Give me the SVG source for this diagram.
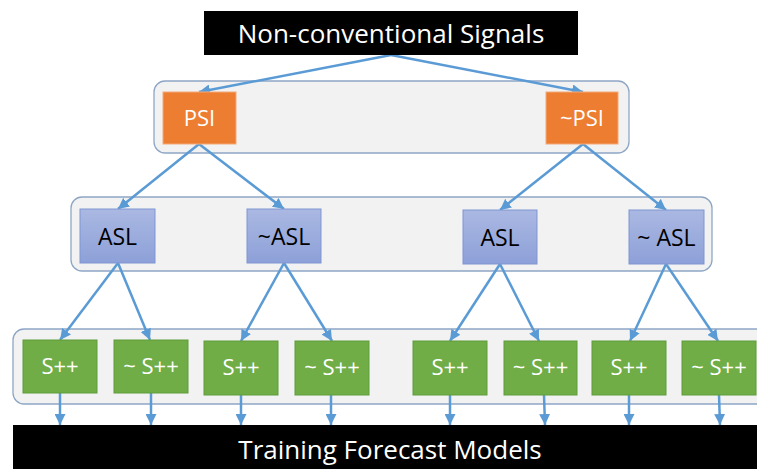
<svg xmlns="http://www.w3.org/2000/svg" width="757" height="469" viewBox="0 0 757 469">
  <defs>
    <linearGradient id="aslGrad" x1="0" y1="0" x2="0" y2="1">
      <stop offset="0" stop-color="#AAB8E2"/>
      <stop offset="1" stop-color="#8DA0D8"/>
    </linearGradient>
    <marker id="arrow" viewBox="0 0 10 10" refX="10" refY="5" markerWidth="11" markerHeight="11" markerUnits="userSpaceOnUse" orient="auto">
      <path d="M0,0 L10,5 L0,10 Z" fill="#5B9BD5"/>
    </marker>
    <style>
      .banner { fill: #000000; }
      .banner-text { fill: #FFFFFF; font-family: "Open Sans", "Noto Sans", sans-serif; font-size: 26px; text-anchor: middle; }
      .band { fill: #F2F2F2; stroke: #8EA6C6; stroke-width: 1.3; }
      .psi { fill: #ED7D31; stroke: #F4A97A; stroke-width: 1; }
      .asl { fill: url(#aslGrad); stroke: #7E95D2; stroke-width: 1; }
      .spp { fill: #70AD47; stroke: #5F9C3A; stroke-width: 1; }
      .label { font-family: "Open Sans", "Noto Sans", sans-serif; font-size: 22px; text-anchor: middle; }
      .label.dark { font-size: 23px; }
      .light { fill: #FFFFFF; }
      .dark { fill: #000000; }
      .edge { stroke: #5B9BD5; stroke-width: 2.5; fill: none; marker-end: url(#arrow); }
    </style>
  </defs>

  <!-- background bands -->
  <rect class="band" x="154" y="81" width="475" height="72" rx="11"/>
  <rect class="band" x="71" y="197" width="641" height="74" rx="11"/>
  <rect class="band" x="13" y="329" width="770" height="75" rx="11"/>

  <!-- connectors -->
  <g id="connectors">
    <path class="edge" d="M391,55 L199,92"/>
    <path class="edge" d="M391,55 L583,92"/>
    <path class="edge" d="M199,144 L118,209"/>
    <path class="edge" d="M199,144 L284,209"/>
    <path class="edge" d="M583,144 L500,210"/>
    <path class="edge" d="M583,144 L666,210"/>
    <path class="edge" d="M118,263 L60,340"/>
    <path class="edge" d="M118,263 L150,340"/>
    <path class="edge" d="M284,263 L241,341"/>
    <path class="edge" d="M284,263 L332,341"/>
    <path class="edge" d="M500,264 L450,341"/>
    <path class="edge" d="M500,264 L539,341"/>
    <path class="edge" d="M666,264 L630,341"/>
    <path class="edge" d="M666,264 L718,341"/>
    <path class="edge" d="M60,393 L60,425"/>
    <path class="edge" d="M151,393 L151,425"/>
    <path class="edge" d="M241,395 L241,425"/>
    <path class="edge" d="M331,395 L331,425"/>
    <path class="edge" d="M450,395 L450,425"/>
    <path class="edge" d="M544,395 L545,425"/>
    <path class="edge" d="M629,395 L629,425"/>
    <path class="edge" d="M719,395 L720,425"/>
  </g>

  <g id="signals">
    <rect class="banner" x="204" y="11" width="374" height="44"/>
    <text class="banner-text" x="391" y="43">Non-conventional Signals</text>
  </g>

  <g id="psi">
    <rect class="psi" x="163" y="92" width="73" height="52"/>
    <text class="label light" x="199.5" y="126">PSI</text>
  </g>
  <g id="not-psi">
    <rect class="psi" x="546" y="92" width="72" height="52"/>
    <text class="label light" x="582" y="126">~PSI</text>
  </g>

  <g id="asl-1">
    <rect class="asl" x="80" y="209" width="75" height="54"/>
    <text class="label dark" x="117.5" y="245">ASL</text>
  </g>
  <g id="not-asl-1">
    <rect class="asl" x="247" y="209" width="74" height="54"/>
    <text class="label dark" x="284" y="245">~ASL</text>
  </g>
  <g id="asl-2">
    <rect class="asl" x="463" y="210" width="74" height="54"/>
    <text class="label dark" x="500" y="246">ASL</text>
  </g>
  <g id="not-asl-2">
    <rect class="asl" x="629" y="210" width="75" height="54"/>
    <text class="label dark" x="666.5" y="246">~ ASL</text>
  </g>

  <g id="spp-1">
    <rect class="spp" x="23" y="340" width="74" height="53"/>
    <text class="label light" x="60" y="374">S++</text>
  </g>
  <g id="not-spp-1">
    <rect class="spp" x="114" y="340" width="74" height="53"/>
    <text class="label light" x="151" y="374">~ S++</text>
  </g>
  <g id="spp-2">
    <rect class="spp" x="204" y="341" width="74" height="54"/>
    <text class="label light" x="241" y="375">S++</text>
  </g>
  <g id="not-spp-2">
    <rect class="spp" x="295" y="341" width="74" height="54"/>
    <text class="label light" x="332" y="375">~ S++</text>
  </g>
  <g id="spp-3">
    <rect class="spp" x="413" y="341" width="74" height="54"/>
    <text class="label light" x="450" y="375">S++</text>
  </g>
  <g id="not-spp-3">
    <rect class="spp" x="504" y="341" width="73" height="54"/>
    <text class="label light" x="540.5" y="375">~ S++</text>
  </g>
  <g id="spp-4">
    <rect class="spp" x="592" y="341" width="74" height="54"/>
    <text class="label light" x="629" y="375">S++</text>
  </g>
  <g id="not-spp-4">
    <rect class="spp" x="682" y="341" width="74" height="54"/>
    <text class="label light" x="719" y="375">~ S++</text>
  </g>

  <g id="training">
    <rect class="banner" x="13" y="425" width="750" height="50"/>
    <text class="banner-text" x="390" y="459">Training Forecast Models</text>
  </g>
</svg>
